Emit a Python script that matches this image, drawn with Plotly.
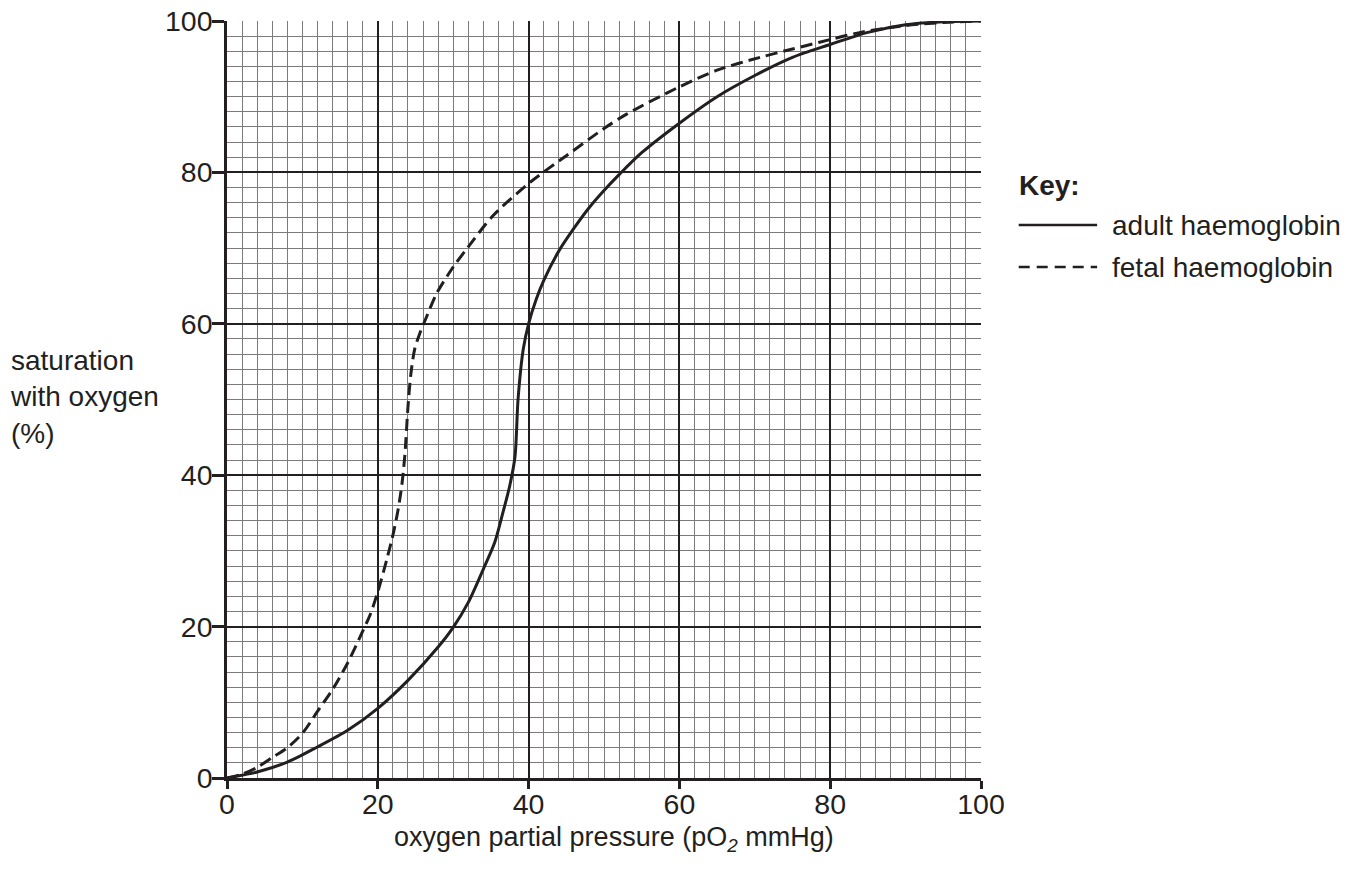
import plotly.graph_objects as go

# Data
pressure_adult = [0, 4, 8, 12, 16, 20, 24, 28, 30, 32, 34, 35.5, 36.6, 37.5, 38.2, 38.6, 39.3, 40, 41, 42, 44, 46, 48, 50, 52, 55, 60, 65, 70, 75, 80, 85, 90, 95, 100]
saturation_adult = [0, 0.8, 2.1, 4.1, 6.3, 9.2, 12.9, 17.3, 19.9, 23.2, 27.6, 31.1, 35.1, 38.6, 42.5, 50, 56.7, 60, 63.2, 65.7, 69.6, 72.6, 75.3, 77.6, 79.7, 82.6, 86.5, 90, 92.8, 95.2, 96.9, 98.5, 99.5, 99.9, 100]

pressure_fetal = [0, 2, 4, 6, 8, 10, 12, 14, 16, 18, 19, 20, 21.2, 22.1, 22.7, 23.2, 23.6, 24, 24.4, 24.9, 25.6, 26.5, 27.8, 30, 31.8, 35.3, 40.2, 45, 50, 53, 60, 65, 70.7, 75, 78.6, 84, 90, 95, 100]
saturation_fetal = [0, 0.5, 1.4, 2.7, 4.0, 5.9, 8.8, 11.7, 15.2, 19.4, 21.6, 24.6, 28.9, 32.5, 35.5, 38.8, 42.8, 49, 53.5, 56.7, 58.8, 61, 64, 67.5, 69.9, 74.3, 78.7, 82.2, 85.8, 87.7, 91.3, 93.5, 95.2, 96.3, 97.2, 98.5, 99.4, 99.8, 100]

tick_vals = [0, 20, 40, 60, 80, 100]
series_names = ["adult haemoglobin", "fetal haemoglobin"]

INK = "#231f20"
FONT = "Liberation Sans, Arial, sans-serif"

fig = go.Figure()
fig.add_trace(go.Scatter(x=pressure_adult, y=saturation_adult, mode="lines",
                         name=series_names[0], showlegend=False,
                         line=dict(color=INK, width=3, shape="spline", smoothing=0.8)))
fig.add_trace(go.Scatter(x=pressure_fetal, y=saturation_fetal, mode="lines",
                         name=series_names[1], showlegend=False,
                         line=dict(color=INK, width=3, dash="12px,6px", shape="spline", smoothing=0.8)))

axis_common = dict(
    range=[0, 100], tickvals=tick_vals, ticks="outside", tickwidth=2.5,
    tickcolor=INK, showline=True, linecolor=INK, linewidth=2.5, mirror=False,
    showgrid=True, gridcolor=INK, gridwidth=1.8, zeroline=False,
    tickfont=dict(family=FONT, size=28.5, color=INK),
    minor=dict(dtick=2, showgrid=True, gridcolor="#7a7a7a", gridwidth=1.1, ticks=""),
    layer="below traces", ticklabeloverflow="allow", automargin=False,
)

fig.update_layout(
    width=1338, height=859, autosize=False,
    margin=dict(l=219, r=365, t=13, b=89),
    paper_bgcolor="white", plot_bgcolor="white",
    xaxis=dict(**axis_common, ticklen=8, ticklabelstandoff=-9),
    yaxis=dict(**axis_common, ticklen=12, ticklabelstandoff=-6),
    font=dict(family=FONT, color=INK),
)

TXT = dict(family=FONT, size=28, color=INK)

# axis titles
fig.add_annotation(text="oxygen partial pressure (pO<sub><i>2</i></sub> mmHg)",
                   xref="paper", yref="paper", x=0.513, xanchor="center",
                   y=-0.081, yanchor="middle",
                   showarrow=False, font=dict(family=FONT, size=27, color=INK))
fig.add_annotation(text="saturation<br>with oxygen<br>(%)", align="left",
                   xref="paper", yref="paper", x=-0.2905, xanchor="left",
                   y=0.503, yanchor="middle",
                   showarrow=False, font=TXT)

# key
fig.add_annotation(text="<b>Key:</b>", xref="paper", yref="paper",
                   x=1.048, xanchor="left", y=0.783, yanchor="middle",
                   showarrow=False, font=TXT)
key_y = [0.7305, 0.675]
for nm, dsh, yk in zip(series_names, ["solid", "11px,7px"], key_y):
    fig.add_shape(type="line", xref="paper", yref="paper",
                  x0=1.050, x1=1.154, y0=yk, y1=yk,
                  line=dict(color=INK, width=2.5, dash=dsh))
    fig.add_annotation(text=nm, xref="paper", yref="paper",
                       x=1.171, xanchor="left", y=yk, yanchor="middle",
                       showarrow=False, font=TXT)

fig.write_html("out.html")
